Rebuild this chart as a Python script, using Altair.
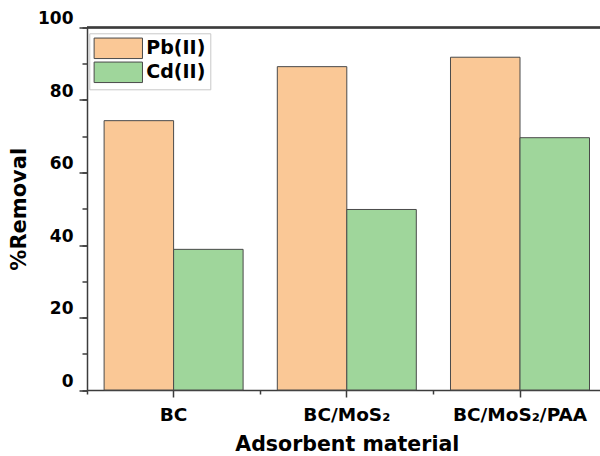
import altair as alt
import pandas as pd

materials = ["BC", "BC/MoS₂", "BC/MoS₂/PAA"]
ions = ["Pb(II)", "Cd(II)"]
pb_removal = [74.3, 89.2, 91.8]
cd_removal = [38.8, 49.8, 69.6]
ion_colors = ["#FAC896", "#9FD69B"]
y_major = [0, 20, 40, 60, 80, 100]
y_minor = [0, 10, 20, 30, 40, 50, 60, 70, 80, 90, 100]

rows = []
for m, p, c in zip(materials, pb_removal, cd_removal):
    rows.append({"material": m, "ion": ions[0], "removal": p})
    rows.append({"material": m, "ion": ions[1], "removal": c})
df = pd.DataFrame(rows)

FONT = "DejaVu Sans"
AX = "#3c3c3c"

x_scale = alt.Scale(domain=materials, range=[0, 519.6], paddingInner=0, paddingOuter=0)
y_scale = alt.Scale(domain=[0, 100], nice=False)

bars = alt.Chart(df).mark_bar(stroke="#4a4a4a", strokeWidth=1, opacity=1).encode(
    x=alt.X("material:N", sort=materials, scale=x_scale,
            axis=alt.Axis(title="Adsorbent material", orient="bottom", labelAngle=0,
                          domainColor=AX, domainWidth=1.5, tickColor=AX, tickWidth=1.5,
                          tickSize=7, labelPadding=8, labelFont=FONT, labelFontSize=18.5,
                          labelFontWeight="bold", labelColor="black",
                          titleFont=FONT, titleFontSize=20.5, titleFontWeight="bold",
                          titleColor="black", titlePadding=11)),
    xOffset=alt.XOffset("ion:N", sort=ions,
                        scale=alt.Scale(domain=ions, paddingInner=0, paddingOuter=0.246)),
    y=alt.Y("removal:Q", scale=y_scale,
            axis=alt.Axis(title="%Removal", orient="left", values=y_major, grid=False,
                          domainColor=AX, domainWidth=1.5, tickColor=AX, tickWidth=1.5,
                          tickSize=8, labelPadding=6, labelOffset=-9,
                          labelFont=FONT, labelFontSize=17, labelFontWeight="bold",
                          labelColor="black", titleFont=FONT, titleFontSize=21,
                          titleFontWeight="bold", titleColor="black", titlePadding=8)),
    color=alt.Color("ion:N", sort=ions, scale=alt.Scale(domain=ions, range=ion_colors),
                    legend=alt.Legend(title=None, orient="none", legendX=2.3, legendY=5.8,
                                      symbolType="M-2.36,-1L2.36,-1L2.36,1L-2.36,1Z",
                                      symbolSize=420, symbolOffset=14,
                                      symbolStrokeColor="#4a4a4a",
                                      symbolStrokeWidth=1, symbolOpacity=1,
                                      labelFont=FONT, labelFontSize=19, labelFontWeight="bold",
                                      labelColor="black", labelOffset=17, rowPadding=-2,
                                      padding=4, strokeColor="#c8c8c8", fillColor="white")),
)

minor = alt.Chart(df).mark_bar(opacity=0).encode(
    x=alt.X("material:N", sort=materials, scale=x_scale,
            axis=alt.Axis(title=None, orient="bottom", labels=False, domain=False,
                          tickBand="extent", tickColor=AX, tickWidth=1.5, tickSize=4)),
    y=alt.Y("removal:Q", scale=y_scale,
            axis=alt.Axis(title=None, orient="left", values=y_minor, labels=False,
                          domain=False, grid=False, tickColor=AX, tickWidth=1.5, tickSize=5)),
)

frame = alt.Chart(df).mark_rule(color=AX, strokeWidth=1.5).encode(
    y=alt.YDatum(100, axis=None)
)

chart = alt.layer(minor, bars, frame).resolve_axis(
    x="independent", y="independent"
).properties(
    width=513, height=362.5,
    padding={"left": 87, "top": 27.5, "right": 0, "bottom": 66},
    autosize=alt.AutoSizeParams(type="none"),
).configure_view(stroke=None).configure(background="white")

chart.save("out.html", embed_options={"renderer": "svg", "actions": False})
